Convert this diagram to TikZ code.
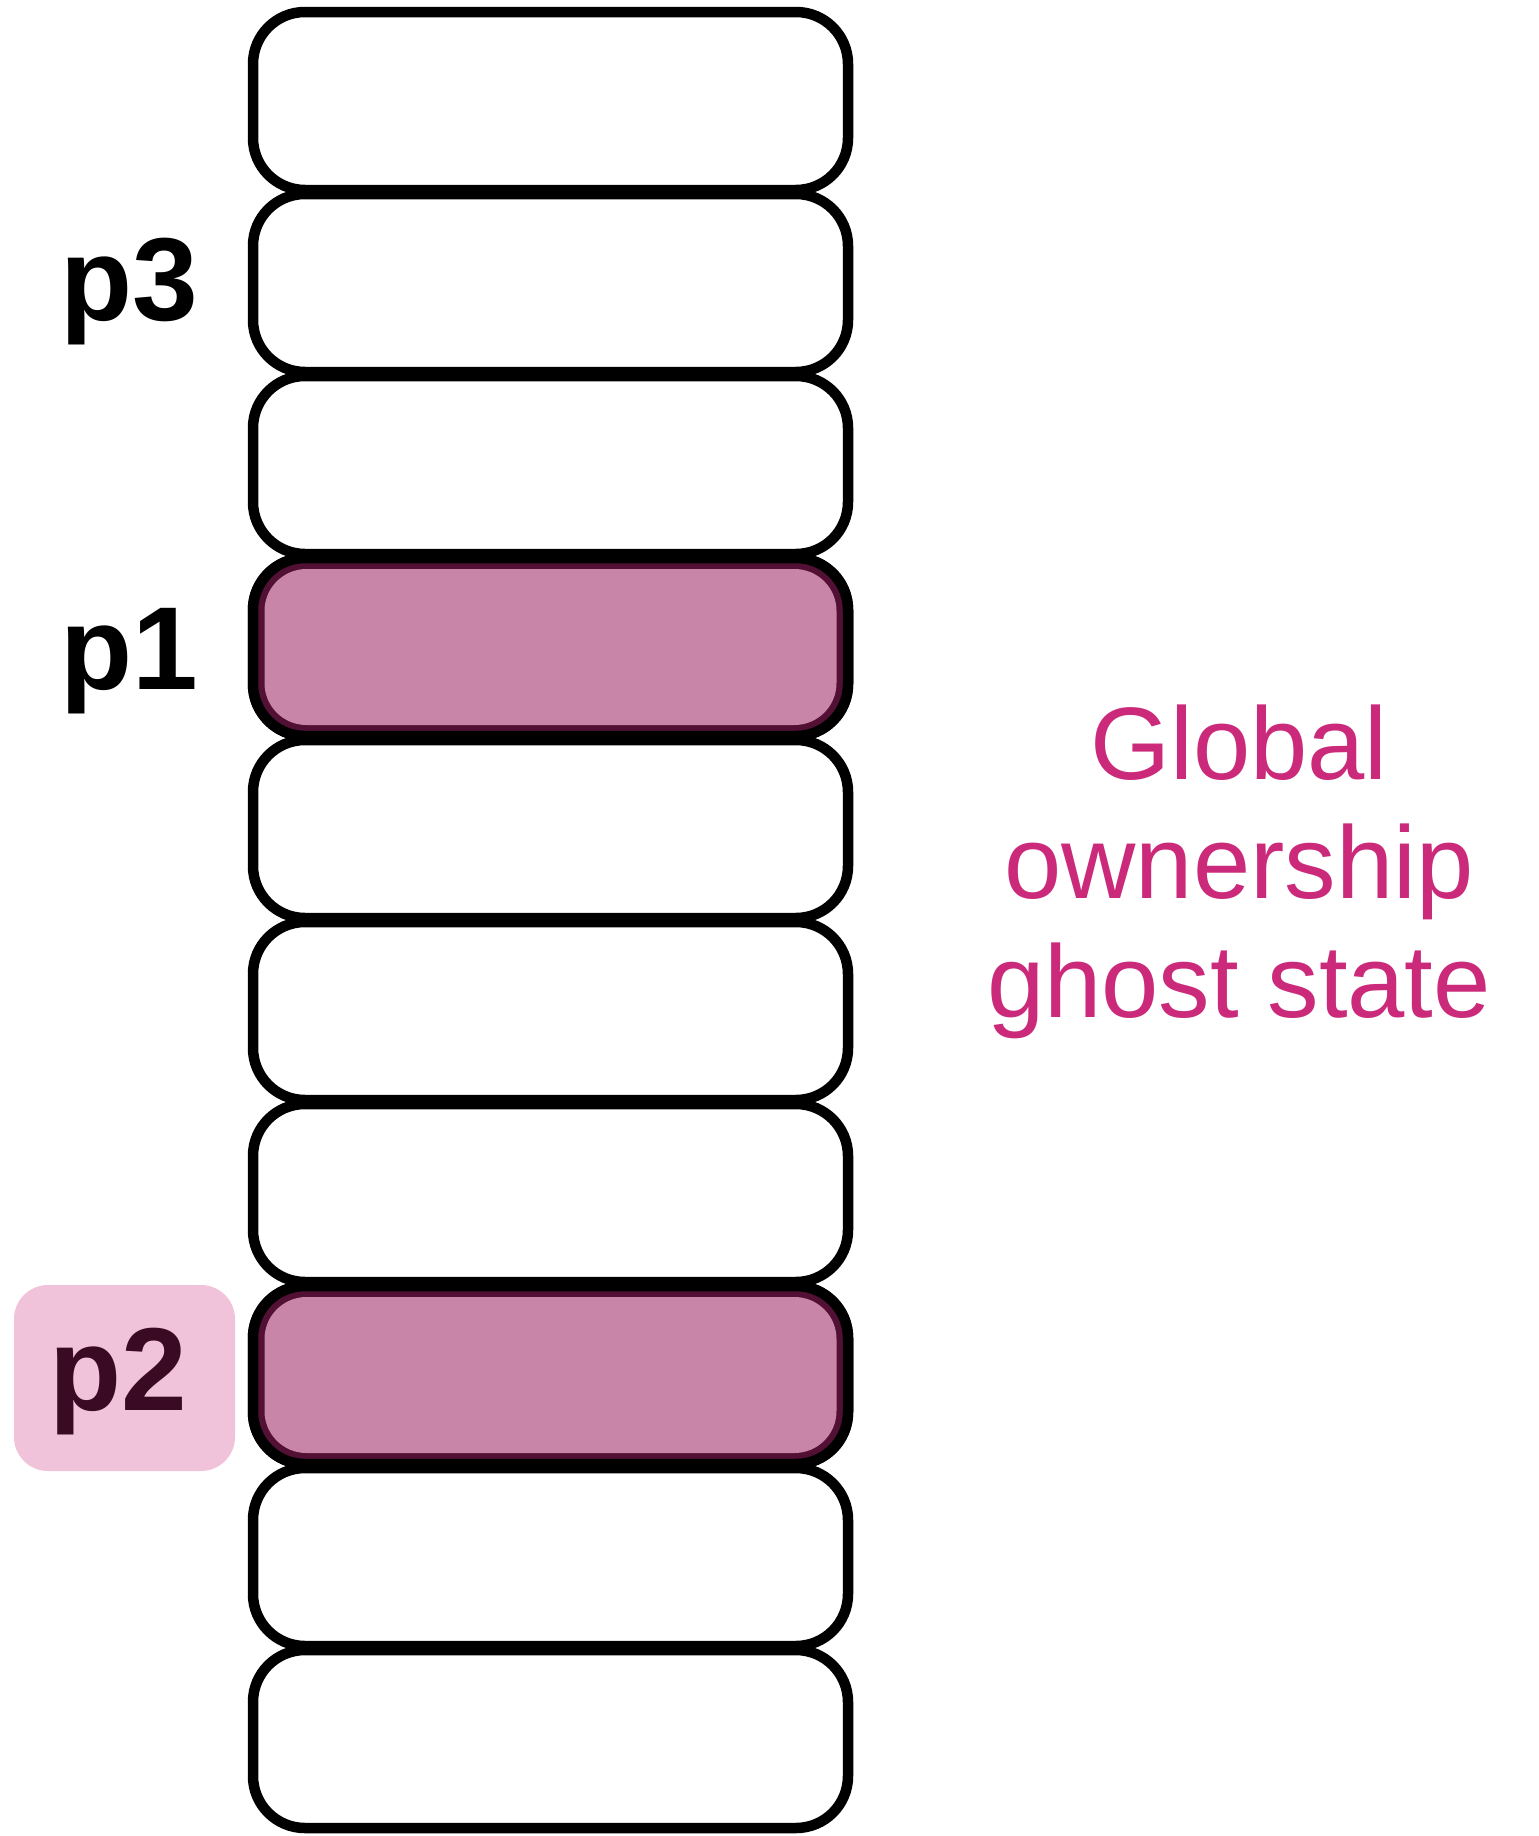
\documentclass[tikz,border=0pt]{standalone}
\usepackage{fontspec}
\setmainfont{Liberation Sans}
\definecolor{ghostpink}{HTML}{CB2A7B}
\definecolor{cellfill}{HTML}{C985A8}
\definecolor{cellband}{HTML}{521034}
\definecolor{tagbg}{HTML}{F0C3DB}
\definecolor{tagtext}{HTML}{3A0A24}
\tikzset{
  cell/.style={draw=black, fill=white, line width=5.25pt, rounded corners=26pt,
    inner sep=0pt, minimum width=297.5pt, minimum height=89pt},
  owned/.style={cell, fill=cellband},
  ownedcore/.style={fill=cellfill, draw=none, rounded corners=21pt,
    inner sep=0pt, minimum width=286pt, minimum height=78pt},
  ptr/.style={font=\bfseries\fontsize{59}{64}\selectfont, inner sep=0pt, anchor=base west},
  tag/.style={fill=tagbg, rounded corners=17pt, inner sep=0pt,
    minimum width=110.5pt, minimum height=93pt},
  caption/.style={text=ghostpink, font=\fontsize{51.5}{59.5}\selectfont,
    align=center, inner sep=0pt}
}
\begin{document}
\begin{tikzpicture}[x=0.5pt, y=-0.5pt]
  \useasboundingbox (0,0) rectangle (1538,1836);

  % column of memory cells
  \foreach \i in {0,...,9} {
    \node[cell] (c\i) at (550.5, {101 + 182*\i}) {};
  }
  % owned cells
  \node[owned] (c3) at (550.5, 647) {};
  \node[ownedcore] (c3in) at (c3.center) {};
  \node[owned] (c7) at (550.5, 1375) {};
  \node[ownedcore] (c7in) at (c7.center) {};

  % pointer labels
  \node[ptr] (p3) at (60, 320) {p3};
  \node[ptr] (p1) at (60, 689) {p1};
  \node[tag] (p2bg) at (124.5, 1378) {};
  \node[ptr, text=tagtext] (p2) at (49, 1410) {p2};

  % caption (anchored at the baseline of its last line)
  \node[caption, anchor=base] (ghost) at (1239, 1017)
    {Global\\ownership\\ghost state};
\end{tikzpicture}
\end{document}
